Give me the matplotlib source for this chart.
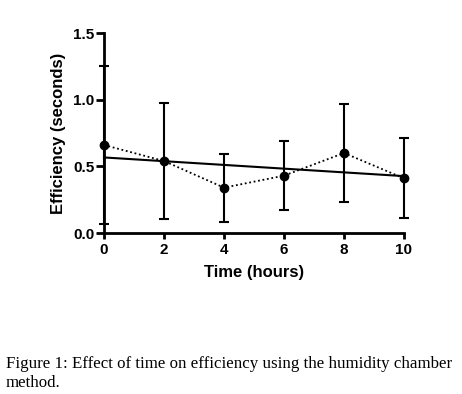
import numpy as np
import matplotlib
matplotlib.use("Agg")
import matplotlib.pyplot as plt

time_h = [0, 2, 4, 6, 8, 10]
efficiency = [0.66, 0.54, 0.34, 0.43, 0.60, 0.41]
sd = [0.59, 0.435, 0.255, 0.26, 0.365, 0.30]

caption_1 = "Figure 1: Effect of time on efficiency using the humidity chamber"
caption_2 = "method."

plt.rcParams["font.family"] = ["Liberation Sans", "DejaVu Sans"]

fig = plt.figure(figsize=(4.62, 3.94), dpi=100)
ax = fig.add_axes([104 / 462, 1 - 233 / 394, 300 / 462, 200 / 394])

# error bars + dotted line through the means
ax.errorbar(time_h, efficiency, yerr=sd, fmt="o", color="black", ms=6,
            elinewidth=1.5, capsize=3.5, capthick=1.5, zorder=3)
ax.plot(time_h, efficiency, color="black", ls=(0, (1, 1.5)), lw=1.3)

# linear regression line
slope, intercept = np.polyfit(time_h, efficiency, 1)
xs = np.array([time_h[0], time_h[-1]])
ax.plot(xs, intercept + slope * xs, color="black", lw=1.5)

ax.set_xlim(0, 10)
ax.set_ylim(0, 1.5)
ax.set_xticks(time_h)
ax.set_yticks([0.0, 0.5, 1.0, 1.5])
ax.set_yticklabels(["0.0", "0.5", "1.0", "1.5"])
for s in ["top", "right"]:
    ax.spines[s].set_visible(False)
for s in ["left", "bottom"]:
    ax.spines[s].set_linewidth(2)
ax.tick_params(axis="y", width=2, length=6, labelsize=11, pad=1)
ax.tick_params(axis="x", width=2, length=4, labelsize=11, pad=3)
for lab in ax.get_xticklabels() + ax.get_yticklabels():
    lab.set_fontweight("bold")
ax.set_xlabel("Time (hours)", fontsize=12, fontweight="bold", labelpad=6)
ax.set_ylabel("Efficiency (seconds)", fontsize=12, fontweight="bold", labelpad=5)
for art in ax.lines + ax.collections:
    art.set_clip_on(False)

fig.text(6 / 462, 1 - 364 / 394, caption_1, family="Liberation Serif", fontsize=12.15, va="center")
fig.text(6 / 462, 1 - 383 / 394, caption_2, family="Liberation Serif", fontsize=12.15, va="center")

fig.savefig("out.png", dpi=100)
